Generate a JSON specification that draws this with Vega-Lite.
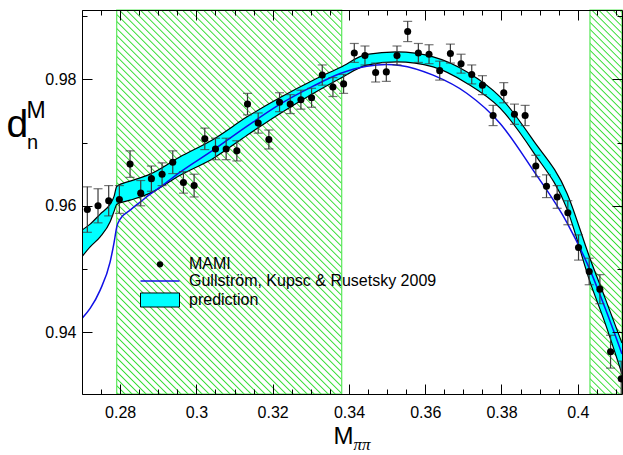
{
"$schema":"https://vega.github.io/schema/vega-lite/v6.json",
"width":540,"height":384,
"autosize":{"type":"none"},
"padding":{"left":82,"top":10,"right":1,"bottom":61},
"background":"white",
"config":{"font":"Liberation Sans","view":{"stroke":null},
 "axis":{"grid":false,"labelFont":"Liberation Sans","labelFontSize":16,"labelColor":"black","tickColor":"black","tickWidth":1,"domainColor":"black","domainWidth":1,"titleColor":"black","titleFont":"Liberation Sans","titleFontWeight":"normal"},
 "legend":{"labelFont":"Liberation Sans","labelFontSize":16,"labelColor":"black","labelLimit":400,"padding":0,"orient":"none"}},
"datasets":{
"mami":[
{"x":0.2714,"d":0.9594,"err":0.0036},{"x":0.2742,"d":0.9600,"err":0.0027},{"x":0.2770,"d":0.9608,"err":0.0024},{"x":0.2798,"d":0.9610,"err":0.0022},{"x":0.2826,"d":0.9666,"err":0.0021},{"x":0.2854,"d":0.9620,"err":0.0020},{"x":0.2882,"d":0.9643,"err":0.0020},{"x":0.2910,"d":0.9650,"err":0.0018},{"x":0.2938,"d":0.9669,"err":0.0018},{"x":0.2966,"d":0.9637,"err":0.0017},{"x":0.2994,"d":0.9632,"err":0.0018},
{"x":0.3022,"d":0.9706,"err":0.0017},{"x":0.3050,"d":0.9690,"err":0.0017},{"x":0.3078,"d":0.9690,"err":0.0017},{"x":0.3106,"d":0.9687,"err":0.0016},{"x":0.3134,"d":0.9761,"err":0.0017},{"x":0.3162,"d":0.9731,"err":0.0016},{"x":0.3190,"d":0.9705,"err":0.0015},{"x":0.3218,"d":0.9764,"err":0.0015},{"x":0.3246,"d":0.9761,"err":0.0015},{"x":0.3274,"d":0.9768,"err":0.0015},
{"x":0.3302,"d":0.9771,"err":0.0015},{"x":0.3330,"d":0.9807,"err":0.0016},{"x":0.3358,"d":0.9788,"err":0.0015},{"x":0.3386,"d":0.9793,"err":0.0015},{"x":0.3414,"d":0.9842,"err":0.0015},{"x":0.3442,"d":0.9838,"err":0.0015},{"x":0.3470,"d":0.9811,"err":0.0015},{"x":0.3498,"d":0.9812,"err":0.0015},{"x":0.3526,"d":0.9838,"err":0.0015},{"x":0.3554,"d":0.9876,"err":0.0016},
{"x":0.3582,"d":0.9842,"err":0.0015},{"x":0.3610,"d":0.9840,"err":0.0015},{"x":0.3638,"d":0.9814,"err":0.0015},{"x":0.3666,"d":0.9841,"err":0.0015},{"x":0.3694,"d":0.9825,"err":0.0015},{"x":0.3722,"d":0.9808,"err":0.0015},{"x":0.3750,"d":0.9791,"err":0.0015},{"x":0.3778,"d":0.9743,"err":0.0016},{"x":0.3806,"d":0.9779,"err":0.0016},{"x":0.3834,"d":0.9745,"err":0.0016},
{"x":0.3862,"d":0.9743,"err":0.0016},{"x":0.3890,"d":0.9663,"err":0.0017},{"x":0.3918,"d":0.9631,"err":0.0018},{"x":0.3946,"d":0.9614,"err":0.0018},{"x":0.3974,"d":0.9589,"err":0.0019},{"x":0.4002,"d":0.9534,"err":0.0020},{"x":0.4030,"d":0.9496,"err":0.0021},{"x":0.4058,"d":0.9468,"err":0.0023},{"x":0.4086,"d":0.9369,"err":0.0026},{"x":0.4114,"d":0.9326,"err":0.0028}
],
"band":[
{"x":0.27,"up":0.95615,"lo":0.95195},{"x":0.27213,"up":0.95710,"lo":0.95350},{"x":0.27476,"up":0.95868,"lo":0.95508},{"x":0.27738,"up":0.96026,"lo":0.95746},{"x":0.27843,"up":0.96153,"lo":0.95915},{"x":0.27913,"up":0.96311,"lo":0.96026},{"x":0.28262,"up":0.96390,"lo":0.96089},{"x":0.28787,"up":0.96501,"lo":0.96200},{"x":0.29574,"up":0.96775,"lo":0.96485},{"x":0.30438,"up":0.97050,"lo":0.96750},{"x":0.31330,"up":0.97408,"lo":0.97118},{"x":0.32195,"up":0.97715,"lo":0.97462},
{"x":0.33061,"up":0.97989,"lo":0.97778},{"x":0.33769,"up":0.98190,"lo":0.98016},{"x":0.34468,"up":0.98396,"lo":0.98226},{"x":0.35255,"up":0.98437,"lo":0.98279},{"x":0.36207,"up":0.98358,"lo":0.98199},{"x":0.37098,"up":0.98120,"lo":0.97937},{"x":0.37964,"up":0.97725,"lo":0.97546},{"x":0.38829,"up":0.97039,"lo":0.96854},{"x":0.39720,"up":0.96196,"lo":0.95947},{"x":0.40323,"up":0.95162,"lo":0.94791},{"x":0.40717,"up":0.94538,"lo":0.94142},{"x":0.4116,"up":0.93826,"lo":0.93335}
],
"gkr":[
{"x":0.27,"d":0.94217},{"x":0.27213,"d":0.94375},{"x":0.27476,"d":0.94665},{"x":0.27738,"d":0.95113},{"x":0.27843,"d":0.95425},{"x":0.27913,"d":0.95670},{"x":0.28,"d":0.95789},{"x":0.28262,"d":0.95931},{"x":0.28524,"d":0.96058},{"x":0.28787,"d":0.96184},{"x":0.29049,"d":0.96295},{"x":0.29574,"d":0.96533},{"x":0.30438,"d":0.96881},{"x":0.31330,"d":0.97261},
{"x":0.32195,"d":0.97609},{"x":0.33061,"d":0.97894},{"x":0.33769,"d":0.98095},{"x":0.34468,"d":0.98211},{"x":0.34993,"d":0.98237},{"x":0.35341,"d":0.98222},{"x":0.36207,"d":0.98068},{"x":0.37098,"d":0.97778},{"x":0.37964,"d":0.97304},{"x":0.38829,"d":0.96564},{"x":0.39720,"d":0.95730},{"x":0.40323,"d":0.94981},{"x":0.40717,"d":0.94380},{"x":0.4116,"d":0.93652}
]
},
"resolve":{"axis":{"x":"independent","y":"independent"}},
"layer":[
{"data":{"values":[{"x0":0.2791,"x1":0.3381}]},
 "mark":{"type":"rect","stroke":"#5be85b","strokeWidth":1.2,
  "fill":{"gradient":"linear","x1":0,"y1":1,"x2":0.6918,"y2":-0.1806,"stops":[
{"offset":0,"color":"#fff"},{"offset":0.0022,"color":"#3d3"},{"offset":0.0044,"color":"#fff"},
{"offset":0.0115,"color":"#fff"},{"offset":0.0137,"color":"#3d3"},{"offset":0.0159,"color":"#fff"},
{"offset":0.023,"color":"#fff"},{"offset":0.0252,"color":"#3d3"},{"offset":0.0274,"color":"#fff"},
{"offset":0.0345,"color":"#fff"},{"offset":0.0367,"color":"#3d3"},{"offset":0.0389,"color":"#fff"},
{"offset":0.046,"color":"#fff"},{"offset":0.0482,"color":"#3d3"},{"offset":0.0504,"color":"#fff"},
{"offset":0.0575,"color":"#fff"},{"offset":0.0597,"color":"#3d3"},{"offset":0.0619,"color":"#fff"},
{"offset":0.069,"color":"#fff"},{"offset":0.0712,"color":"#3d3"},{"offset":0.0734,"color":"#fff"},
{"offset":0.0805,"color":"#fff"},{"offset":0.0827,"color":"#3d3"},{"offset":0.0849,"color":"#fff"},
{"offset":0.092,"color":"#fff"},{"offset":0.0942,"color":"#3d3"},{"offset":0.0964,"color":"#fff"},
{"offset":0.1035,"color":"#fff"},{"offset":0.1057,"color":"#3d3"},{"offset":0.1079,"color":"#fff"},
{"offset":0.115,"color":"#fff"},{"offset":0.1172,"color":"#3d3"},{"offset":0.1194,"color":"#fff"},
{"offset":0.1265,"color":"#fff"},{"offset":0.1287,"color":"#3d3"},{"offset":0.1309,"color":"#fff"},
{"offset":0.138,"color":"#fff"},{"offset":0.1402,"color":"#3d3"},{"offset":0.1424,"color":"#fff"},
{"offset":0.1495,"color":"#fff"},{"offset":0.1517,"color":"#3d3"},{"offset":0.1539,"color":"#fff"},
{"offset":0.161,"color":"#fff"},{"offset":0.1632,"color":"#3d3"},{"offset":0.1654,"color":"#fff"},
{"offset":0.1725,"color":"#fff"},{"offset":0.1747,"color":"#3d3"},{"offset":0.1769,"color":"#fff"},
{"offset":0.184,"color":"#fff"},{"offset":0.1862,"color":"#3d3"},{"offset":0.1884,"color":"#fff"},
{"offset":0.1955,"color":"#fff"},{"offset":0.1977,"color":"#3d3"},{"offset":0.1999,"color":"#fff"},
{"offset":0.207,"color":"#fff"},{"offset":0.2092,"color":"#3d3"},{"offset":0.2114,"color":"#fff"},
{"offset":0.2185,"color":"#fff"},{"offset":0.2207,"color":"#3d3"},{"offset":0.2229,"color":"#fff"},
{"offset":0.23,"color":"#fff"},{"offset":0.2322,"color":"#3d3"},{"offset":0.2344,"color":"#fff"},
{"offset":0.2415,"color":"#fff"},{"offset":0.2437,"color":"#3d3"},{"offset":0.2459,"color":"#fff"},
{"offset":0.253,"color":"#fff"},{"offset":0.2552,"color":"#3d3"},{"offset":0.2574,"color":"#fff"},
{"offset":0.2645,"color":"#fff"},{"offset":0.2667,"color":"#3d3"},{"offset":0.2689,"color":"#fff"},
{"offset":0.276,"color":"#fff"},{"offset":0.2782,"color":"#3d3"},{"offset":0.2804,"color":"#fff"},
{"offset":0.2875,"color":"#fff"},{"offset":0.2897,"color":"#3d3"},{"offset":0.2919,"color":"#fff"},
{"offset":0.299,"color":"#fff"},{"offset":0.3012,"color":"#3d3"},{"offset":0.3034,"color":"#fff"},
{"offset":0.3105,"color":"#fff"},{"offset":0.3127,"color":"#3d3"},{"offset":0.3149,"color":"#fff"},
{"offset":0.322,"color":"#fff"},{"offset":0.3242,"color":"#3d3"},{"offset":0.3264,"color":"#fff"},
{"offset":0.3335,"color":"#fff"},{"offset":0.3357,"color":"#3d3"},{"offset":0.3379,"color":"#fff"},
{"offset":0.345,"color":"#fff"},{"offset":0.3472,"color":"#3d3"},{"offset":0.3494,"color":"#fff"},
{"offset":0.3565,"color":"#fff"},{"offset":0.3587,"color":"#3d3"},{"offset":0.3609,"color":"#fff"},
{"offset":0.368,"color":"#fff"},{"offset":0.3702,"color":"#3d3"},{"offset":0.3724,"color":"#fff"},
{"offset":0.3795,"color":"#fff"},{"offset":0.3817,"color":"#3d3"},{"offset":0.3839,"color":"#fff"},
{"offset":0.391,"color":"#fff"},{"offset":0.3932,"color":"#3d3"},{"offset":0.3954,"color":"#fff"},
{"offset":0.4025,"color":"#fff"},{"offset":0.4047,"color":"#3d3"},{"offset":0.4069,"color":"#fff"},
{"offset":0.414,"color":"#fff"},{"offset":0.4162,"color":"#3d3"},{"offset":0.4184,"color":"#fff"},
{"offset":0.4255,"color":"#fff"},{"offset":0.4277,"color":"#3d3"},{"offset":0.4299,"color":"#fff"},
{"offset":0.437,"color":"#fff"},{"offset":0.4392,"color":"#3d3"},{"offset":0.4414,"color":"#fff"},
{"offset":0.4485,"color":"#fff"},{"offset":0.4507,"color":"#3d3"},{"offset":0.4529,"color":"#fff"},
{"offset":0.46,"color":"#fff"},{"offset":0.4622,"color":"#3d3"},{"offset":0.4644,"color":"#fff"},
{"offset":0.4715,"color":"#fff"},{"offset":0.4737,"color":"#3d3"},{"offset":0.4759,"color":"#fff"},
{"offset":0.483,"color":"#fff"},{"offset":0.4852,"color":"#3d3"},{"offset":0.4874,"color":"#fff"},
{"offset":0.4945,"color":"#fff"},{"offset":0.4967,"color":"#3d3"},{"offset":0.4989,"color":"#fff"},
{"offset":0.506,"color":"#fff"},{"offset":0.5082,"color":"#3d3"},{"offset":0.5104,"color":"#fff"},
{"offset":0.5175,"color":"#fff"},{"offset":0.5197,"color":"#3d3"},{"offset":0.5219,"color":"#fff"},
{"offset":0.529,"color":"#fff"},{"offset":0.5312,"color":"#3d3"},{"offset":0.5334,"color":"#fff"},
{"offset":0.5405,"color":"#fff"},{"offset":0.5427,"color":"#3d3"},{"offset":0.5449,"color":"#fff"},
{"offset":0.552,"color":"#fff"},{"offset":0.5542,"color":"#3d3"},{"offset":0.5564,"color":"#fff"},
{"offset":0.5635,"color":"#fff"},{"offset":0.5657,"color":"#3d3"},{"offset":0.5679,"color":"#fff"},
{"offset":0.575,"color":"#fff"},{"offset":0.5772,"color":"#3d3"},{"offset":0.5794,"color":"#fff"},
{"offset":0.5865,"color":"#fff"},{"offset":0.5887,"color":"#3d3"},{"offset":0.5909,"color":"#fff"},
{"offset":0.598,"color":"#fff"},{"offset":0.6002,"color":"#3d3"},{"offset":0.6024,"color":"#fff"},
{"offset":0.6095,"color":"#fff"},{"offset":0.6117,"color":"#3d3"},{"offset":0.6139,"color":"#fff"},
{"offset":0.621,"color":"#fff"},{"offset":0.6232,"color":"#3d3"},{"offset":0.6254,"color":"#fff"},
{"offset":0.6325,"color":"#fff"},{"offset":0.6347,"color":"#3d3"},{"offset":0.6369,"color":"#fff"},
{"offset":0.644,"color":"#fff"},{"offset":0.6462,"color":"#3d3"},{"offset":0.6484,"color":"#fff"},
{"offset":0.6555,"color":"#fff"},{"offset":0.6577,"color":"#3d3"},{"offset":0.6599,"color":"#fff"},
{"offset":0.667,"color":"#fff"},{"offset":0.6692,"color":"#3d3"},{"offset":0.6714,"color":"#fff"},
{"offset":0.6785,"color":"#fff"},{"offset":0.6807,"color":"#3d3"},{"offset":0.6829,"color":"#fff"},
{"offset":0.69,"color":"#fff"},{"offset":0.6922,"color":"#3d3"},{"offset":0.6944,"color":"#fff"},
{"offset":0.7015,"color":"#fff"},{"offset":0.7037,"color":"#3d3"},{"offset":0.7059,"color":"#fff"},
{"offset":0.713,"color":"#fff"},{"offset":0.7152,"color":"#3d3"},{"offset":0.7174,"color":"#fff"},
{"offset":0.7245,"color":"#fff"},{"offset":0.7267,"color":"#3d3"},{"offset":0.7289,"color":"#fff"},
{"offset":0.736,"color":"#fff"},{"offset":0.7382,"color":"#3d3"},{"offset":0.7404,"color":"#fff"},
{"offset":0.7475,"color":"#fff"},{"offset":0.7497,"color":"#3d3"},{"offset":0.7519,"color":"#fff"},
{"offset":0.759,"color":"#fff"},{"offset":0.7612,"color":"#3d3"},{"offset":0.7634,"color":"#fff"},
{"offset":0.7705,"color":"#fff"},{"offset":0.7727,"color":"#3d3"},{"offset":0.7749,"color":"#fff"},
{"offset":0.782,"color":"#fff"},{"offset":0.7842,"color":"#3d3"},{"offset":0.7864,"color":"#fff"},
{"offset":0.7935,"color":"#fff"},{"offset":0.7957,"color":"#3d3"},{"offset":0.7979,"color":"#fff"},
{"offset":0.805,"color":"#fff"},{"offset":0.8072,"color":"#3d3"},{"offset":0.8094,"color":"#fff"},
{"offset":0.8165,"color":"#fff"},{"offset":0.8187,"color":"#3d3"},{"offset":0.8209,"color":"#fff"},
{"offset":0.828,"color":"#fff"},{"offset":0.8302,"color":"#3d3"},{"offset":0.8324,"color":"#fff"},
{"offset":0.8395,"color":"#fff"},{"offset":0.8417,"color":"#3d3"},{"offset":0.8439,"color":"#fff"},
{"offset":0.851,"color":"#fff"},{"offset":0.8532,"color":"#3d3"},{"offset":0.8554,"color":"#fff"},
{"offset":0.8625,"color":"#fff"},{"offset":0.8647,"color":"#3d3"},{"offset":0.8669,"color":"#fff"},
{"offset":0.874,"color":"#fff"},{"offset":0.8762,"color":"#3d3"},{"offset":0.8784,"color":"#fff"},
{"offset":0.8855,"color":"#fff"},{"offset":0.8877,"color":"#3d3"},{"offset":0.8899,"color":"#fff"},
{"offset":0.897,"color":"#fff"},{"offset":0.8992,"color":"#3d3"},{"offset":0.9014,"color":"#fff"},
{"offset":0.9085,"color":"#fff"},{"offset":0.9107,"color":"#3d3"},{"offset":0.9129,"color":"#fff"},
{"offset":0.92,"color":"#fff"},{"offset":0.9222,"color":"#3d3"},{"offset":0.9244,"color":"#fff"},
{"offset":0.9315,"color":"#fff"},{"offset":0.9337,"color":"#3d3"},{"offset":0.9359,"color":"#fff"},
{"offset":0.943,"color":"#fff"},{"offset":0.9452,"color":"#3d3"},{"offset":0.9474,"color":"#fff"},
{"offset":0.9545,"color":"#fff"},{"offset":0.9567,"color":"#3d3"},{"offset":0.9589,"color":"#fff"},
{"offset":0.966,"color":"#fff"},{"offset":0.9682,"color":"#3d3"},{"offset":0.9704,"color":"#fff"},
{"offset":0.9775,"color":"#fff"},{"offset":0.9797,"color":"#3d3"},{"offset":0.9819,"color":"#fff"},
{"offset":0.989,"color":"#fff"},{"offset":0.9912,"color":"#3d3"},{"offset":0.9934,"color":"#fff"},
{"offset":1,"color":"#fff"}]}},
 "encoding":{
  "x":{"field":"x0","type":"quantitative","scale":{"domain":[0.27,0.4116],"nice":false,"zero":false},
   "axis":{"orient":"bottom","zindex":1,"values":[0.27,0.275,0.28,0.285,0.29,0.295,0.3,0.305,0.31,0.315,0.32,0.325,0.33,0.335,0.34,0.345,0.35,0.355,0.36,0.365,0.37,0.375,0.38,0.385,0.39,0.395,0.4,0.405,0.41],
    "tickSize":{"condition":{"test":"abs(datum.value*50-round(datum.value*50))<0.01","value":-10},"value":-5},
    "labelExpr":"abs(datum.value*50-round(datum.value*50))<0.01 ? format(datum.value,'.2~f') : ''",
    "labelPadding":20,"labelOverlap":false,"labelFlush":false,
    "title":"M","titleFontSize":24,"titleX":251,"titleY":49,"titleAlign":"left","titleBaseline":"alphabetic","titleAngle":0}},
  "x2":{"field":"x1"}}},
{"data":{"values":[{"x0":0.4032,"x1":0.4116}]},
 "mark":{"type":"rect","stroke":"#5be85b","strokeWidth":1.2,
  "fill":{"gradient":"linear","x1":0,"y1":1,"x2":0.0897,"y2":-0.0759,"stops":[
{"offset":0,"color":"#fff"},{"offset":0.0032,"color":"#3d3"},{"offset":0.0064,"color":"#fff"},
{"offset":0.0168,"color":"#fff"},{"offset":0.02,"color":"#3d3"},{"offset":0.0232,"color":"#fff"},
{"offset":0.0336,"color":"#fff"},{"offset":0.0368,"color":"#3d3"},{"offset":0.04,"color":"#fff"},
{"offset":0.0504,"color":"#fff"},{"offset":0.0536,"color":"#3d3"},{"offset":0.0568,"color":"#fff"},
{"offset":0.0672,"color":"#fff"},{"offset":0.0704,"color":"#3d3"},{"offset":0.0736,"color":"#fff"},
{"offset":0.084,"color":"#fff"},{"offset":0.0872,"color":"#3d3"},{"offset":0.0904,"color":"#fff"},
{"offset":0.1008,"color":"#fff"},{"offset":0.104,"color":"#3d3"},{"offset":0.1072,"color":"#fff"},
{"offset":0.1176,"color":"#fff"},{"offset":0.1208,"color":"#3d3"},{"offset":0.124,"color":"#fff"},
{"offset":0.1344,"color":"#fff"},{"offset":0.1376,"color":"#3d3"},{"offset":0.1408,"color":"#fff"},
{"offset":0.1512,"color":"#fff"},{"offset":0.1544,"color":"#3d3"},{"offset":0.1576,"color":"#fff"},
{"offset":0.168,"color":"#fff"},{"offset":0.1712,"color":"#3d3"},{"offset":0.1744,"color":"#fff"},
{"offset":0.1848,"color":"#fff"},{"offset":0.188,"color":"#3d3"},{"offset":0.1912,"color":"#fff"},
{"offset":0.2016,"color":"#fff"},{"offset":0.2048,"color":"#3d3"},{"offset":0.208,"color":"#fff"},
{"offset":0.2184,"color":"#fff"},{"offset":0.2216,"color":"#3d3"},{"offset":0.2248,"color":"#fff"},
{"offset":0.2352,"color":"#fff"},{"offset":0.2384,"color":"#3d3"},{"offset":0.2416,"color":"#fff"},
{"offset":0.252,"color":"#fff"},{"offset":0.2552,"color":"#3d3"},{"offset":0.2584,"color":"#fff"},
{"offset":0.2688,"color":"#fff"},{"offset":0.272,"color":"#3d3"},{"offset":0.2752,"color":"#fff"},
{"offset":0.2856,"color":"#fff"},{"offset":0.2888,"color":"#3d3"},{"offset":0.292,"color":"#fff"},
{"offset":0.3024,"color":"#fff"},{"offset":0.3056,"color":"#3d3"},{"offset":0.3088,"color":"#fff"},
{"offset":0.3192,"color":"#fff"},{"offset":0.3224,"color":"#3d3"},{"offset":0.3256,"color":"#fff"},
{"offset":0.336,"color":"#fff"},{"offset":0.3392,"color":"#3d3"},{"offset":0.3424,"color":"#fff"},
{"offset":0.3528,"color":"#fff"},{"offset":0.356,"color":"#3d3"},{"offset":0.3592,"color":"#fff"},
{"offset":0.3696,"color":"#fff"},{"offset":0.3728,"color":"#3d3"},{"offset":0.376,"color":"#fff"},
{"offset":0.3864,"color":"#fff"},{"offset":0.3896,"color":"#3d3"},{"offset":0.3928,"color":"#fff"},
{"offset":0.4032,"color":"#fff"},{"offset":0.4064,"color":"#3d3"},{"offset":0.4096,"color":"#fff"},
{"offset":0.42,"color":"#fff"},{"offset":0.4232,"color":"#3d3"},{"offset":0.4264,"color":"#fff"},
{"offset":0.4368,"color":"#fff"},{"offset":0.44,"color":"#3d3"},{"offset":0.4432,"color":"#fff"},
{"offset":0.4536,"color":"#fff"},{"offset":0.4568,"color":"#3d3"},{"offset":0.46,"color":"#fff"},
{"offset":0.4704,"color":"#fff"},{"offset":0.4736,"color":"#3d3"},{"offset":0.4768,"color":"#fff"},
{"offset":0.4872,"color":"#fff"},{"offset":0.4904,"color":"#3d3"},{"offset":0.4936,"color":"#fff"},
{"offset":0.504,"color":"#fff"},{"offset":0.5072,"color":"#3d3"},{"offset":0.5104,"color":"#fff"},
{"offset":0.5208,"color":"#fff"},{"offset":0.524,"color":"#3d3"},{"offset":0.5272,"color":"#fff"},
{"offset":0.5376,"color":"#fff"},{"offset":0.5408,"color":"#3d3"},{"offset":0.544,"color":"#fff"},
{"offset":0.5544,"color":"#fff"},{"offset":0.5576,"color":"#3d3"},{"offset":0.5608,"color":"#fff"},
{"offset":0.5712,"color":"#fff"},{"offset":0.5744,"color":"#3d3"},{"offset":0.5776,"color":"#fff"},
{"offset":0.588,"color":"#fff"},{"offset":0.5912,"color":"#3d3"},{"offset":0.5944,"color":"#fff"},
{"offset":0.6048,"color":"#fff"},{"offset":0.608,"color":"#3d3"},{"offset":0.6112,"color":"#fff"},
{"offset":0.6216,"color":"#fff"},{"offset":0.6248,"color":"#3d3"},{"offset":0.628,"color":"#fff"},
{"offset":0.6384,"color":"#fff"},{"offset":0.6416,"color":"#3d3"},{"offset":0.6448,"color":"#fff"},
{"offset":0.6552,"color":"#fff"},{"offset":0.6584,"color":"#3d3"},{"offset":0.6616,"color":"#fff"},
{"offset":0.672,"color":"#fff"},{"offset":0.6752,"color":"#3d3"},{"offset":0.6784,"color":"#fff"},
{"offset":0.6888,"color":"#fff"},{"offset":0.692,"color":"#3d3"},{"offset":0.6952,"color":"#fff"},
{"offset":0.7056,"color":"#fff"},{"offset":0.7088,"color":"#3d3"},{"offset":0.712,"color":"#fff"},
{"offset":0.7224,"color":"#fff"},{"offset":0.7256,"color":"#3d3"},{"offset":0.7288,"color":"#fff"},
{"offset":0.7392,"color":"#fff"},{"offset":0.7424,"color":"#3d3"},{"offset":0.7456,"color":"#fff"},
{"offset":0.756,"color":"#fff"},{"offset":0.7592,"color":"#3d3"},{"offset":0.7624,"color":"#fff"},
{"offset":0.7728,"color":"#fff"},{"offset":0.776,"color":"#3d3"},{"offset":0.7792,"color":"#fff"},
{"offset":0.7896,"color":"#fff"},{"offset":0.7928,"color":"#3d3"},{"offset":0.796,"color":"#fff"},
{"offset":0.8064,"color":"#fff"},{"offset":0.8096,"color":"#3d3"},{"offset":0.8128,"color":"#fff"},
{"offset":0.8232,"color":"#fff"},{"offset":0.8264,"color":"#3d3"},{"offset":0.8296,"color":"#fff"},
{"offset":0.84,"color":"#fff"},{"offset":0.8432,"color":"#3d3"},{"offset":0.8464,"color":"#fff"},
{"offset":0.8568,"color":"#fff"},{"offset":0.86,"color":"#3d3"},{"offset":0.8632,"color":"#fff"},
{"offset":0.8736,"color":"#fff"},{"offset":0.8768,"color":"#3d3"},{"offset":0.88,"color":"#fff"},
{"offset":0.8904,"color":"#fff"},{"offset":0.8936,"color":"#3d3"},{"offset":0.8968,"color":"#fff"},
{"offset":0.9072,"color":"#fff"},{"offset":0.9104,"color":"#3d3"},{"offset":0.9136,"color":"#fff"},
{"offset":0.924,"color":"#fff"},{"offset":0.9272,"color":"#3d3"},{"offset":0.9304,"color":"#fff"},
{"offset":0.9408,"color":"#fff"},{"offset":0.944,"color":"#3d3"},{"offset":0.9472,"color":"#fff"},
{"offset":0.9576,"color":"#fff"},{"offset":0.9608,"color":"#3d3"},{"offset":0.964,"color":"#fff"},
{"offset":0.9744,"color":"#fff"},{"offset":0.9776,"color":"#3d3"},{"offset":0.9808,"color":"#fff"},
{"offset":0.9912,"color":"#fff"},{"offset":0.9944,"color":"#3d3"},{"offset":0.9976,"color":"#fff"},
{"offset":1,"color":"#fff"}]}},
 "encoding":{
  "x":{"field":"x0","type":"quantitative","scale":{"domain":[0.27,0.4116],"nice":false,"zero":false},"axis":null},
  "x2":{"field":"x1"}}},
{"data":{"name":"band"},
 "mark":{"type":"area","interpolate":"monotone","clip":true,"opacity":1},
 "encoding":{
  "x":{"field":"x","type":"quantitative","scale":{"domain":[0.27,0.4116],"nice":false,"zero":false},
   "axis":{"orient":"top","zindex":1,"values":[0.27,0.275,0.28,0.285,0.29,0.295,0.3,0.305,0.31,0.315,0.32,0.325,0.33,0.335,0.34,0.345,0.35,0.355,0.36,0.365,0.37,0.375,0.38,0.385,0.39,0.395,0.4,0.405,0.41],
    "tickSize":{"condition":{"test":"abs(datum.value*50-round(datum.value*50))<0.01","value":-10},"value":-5},
    "labels":false,"title":null}},
  "y":{"field":"up","type":"quantitative","stack":null,"scale":{"domain":[0.9302,0.991],"nice":false,"zero":false},
   "axis":{"orient":"left","zindex":1,"values":[0.94,0.95,0.96,0.97,0.98,0.99],
    "tickSize":{"condition":{"test":"abs(datum.value*50-round(datum.value*50))<0.01","value":-10},"value":-5},
    "labelExpr":"abs(datum.value*50-round(datum.value*50))<0.01 ? format(datum.value,'.2~f') : ''",
    "labelPadding":16,"labelOverlap":false,"labelFlush":false,
    "title":"d","titleFontSize":39,"titleX":-76,"titleY":126.5,"titleAlign":"left","titleBaseline":"alphabetic","titleAngle":0}},
  "y2":{"field":"lo"},
  "fill":{"datum":"prediction","type":"nominal",
   "scale":{"domain":["prediction"],"range":["#00ffff"]},
   "legend":{"title":null,"orient":"none","legendX":58,"legendY":270,"symbolType":"M-1,-0.36H1V0.36H-1Z","symbolSize":1521,"symbolStrokeColor":"black","symbolStrokeWidth":1,"symbolOpacity":1,"symbolOffset":0,"labelOffset":9}}}},
{"data":{"name":"band"},
 "mark":{"type":"line","interpolate":"monotone","clip":true,"color":"black","strokeWidth":1.2},
 "encoding":{
  "x":{"field":"x","type":"quantitative","scale":{"domain":[0.27,0.4116],"nice":false,"zero":false},"axis":null},
  "y":{"field":"up","type":"quantitative","scale":{"domain":[0.9302,0.991],"nice":false,"zero":false},
   "axis":{"orient":"right","zindex":1,"values":[0.94,0.95,0.96,0.97,0.98,0.99],
    "tickSize":{"condition":{"test":"abs(datum.value*50-round(datum.value*50))<0.01","value":-10},"value":-5},
    "labels":false,"title":null}}}},
{"data":{"name":"band"},
 "mark":{"type":"line","interpolate":"monotone","clip":true,"color":"black","strokeWidth":1.2},
 "encoding":{
  "x":{"field":"x","type":"quantitative","scale":{"domain":[0.27,0.4116],"nice":false,"zero":false},
   "axis":{"orient":"bottom","zindex":1,"domain":false,"ticks":false,"labels":false,
    "title":"ππ","titleFont":"Liberation Serif","titleFontStyle":"italic","titleFontSize":17,"titleX":271,"titleY":55,"titleAlign":"left","titleBaseline":"alphabetic","titleAngle":0}},
  "y":{"field":"lo","type":"quantitative","scale":{"domain":[0.9302,0.991],"nice":false,"zero":false},"axis":null}}},
{"data":{"name":"gkr"},
 "mark":{"type":"line","interpolate":"monotone","clip":true,"strokeWidth":1.5},
 "encoding":{
  "x":{"field":"x","type":"quantitative","scale":{"domain":[0.27,0.4116],"nice":false,"zero":false},"axis":null},
  "y":{"field":"d","type":"quantitative","scale":{"domain":[0.9302,0.991],"nice":false,"zero":false},
   "axis":{"orient":"left","zindex":1,"domain":false,"ticks":false,"labels":false,
    "title":"M","titleFontSize":23,"titleX":-56,"titleY":107.5,"titleAlign":"left","titleBaseline":"alphabetic","titleAngle":0}},
  "stroke":{"datum":"Gullström, Kupsc & Rusetsky 2009","type":"nominal",
   "scale":{"domain":["Gullström, Kupsc & Rusetsky 2009"],"range":["#1010e6"]},
   "legend":{"title":null,"orient":"none","legendX":57.5,"legendY":250.5,"symbolType":"stroke","symbolSize":1521,"symbolStrokeWidth":1.5,"symbolOpacity":1,"symbolOffset":0,"labelOffset":8.5}}}},
{"data":{"name":"mami"},
 "mark":{"type":"errorbar","clip":true,"ticks":{"size":9,"thickness":1.2,"color":"#3a3a3a"},"rule":{"strokeWidth":1.2,"color":"#3a3a3a"}},
 "encoding":{
  "x":{"field":"x","type":"quantitative","scale":{"domain":[0.27,0.4116],"nice":false,"zero":false},"axis":null},
  "y":{"field":"d","type":"quantitative","scale":{"domain":[0.9302,0.991],"nice":false,"zero":false},"axis":null},
  "yError":{"field":"err"}}},
{"data":{"name":"mami"},
 "mark":{"type":"point","filled":true,"size":50,"opacity":1},
 "encoding":{
  "x":{"field":"x","type":"quantitative","scale":{"domain":[0.27,0.4116],"nice":false,"zero":false},"axis":null},
  "y":{"field":"d","type":"quantitative","scale":{"domain":[0.9302,0.991],"nice":false,"zero":false},
   "axis":{"orient":"left","zindex":1,"domain":false,"ticks":false,"labels":false,
    "title":"n","titleFontSize":20,"titleX":-55.5,"titleY":138.5,"titleAlign":"left","titleBaseline":"alphabetic","titleAngle":0}},
  "color":{"datum":"MAMI","type":"nominal",
   "scale":{"domain":["MAMI"],"range":["black"]},
   "legend":{"title":null,"orient":"none","legendX":70,"legendY":246.3,"symbolType":"circle","symbolSize":40,"symbolOpacity":1,"symbolOffset":0,"labelOffset":21}}}}
]
}
